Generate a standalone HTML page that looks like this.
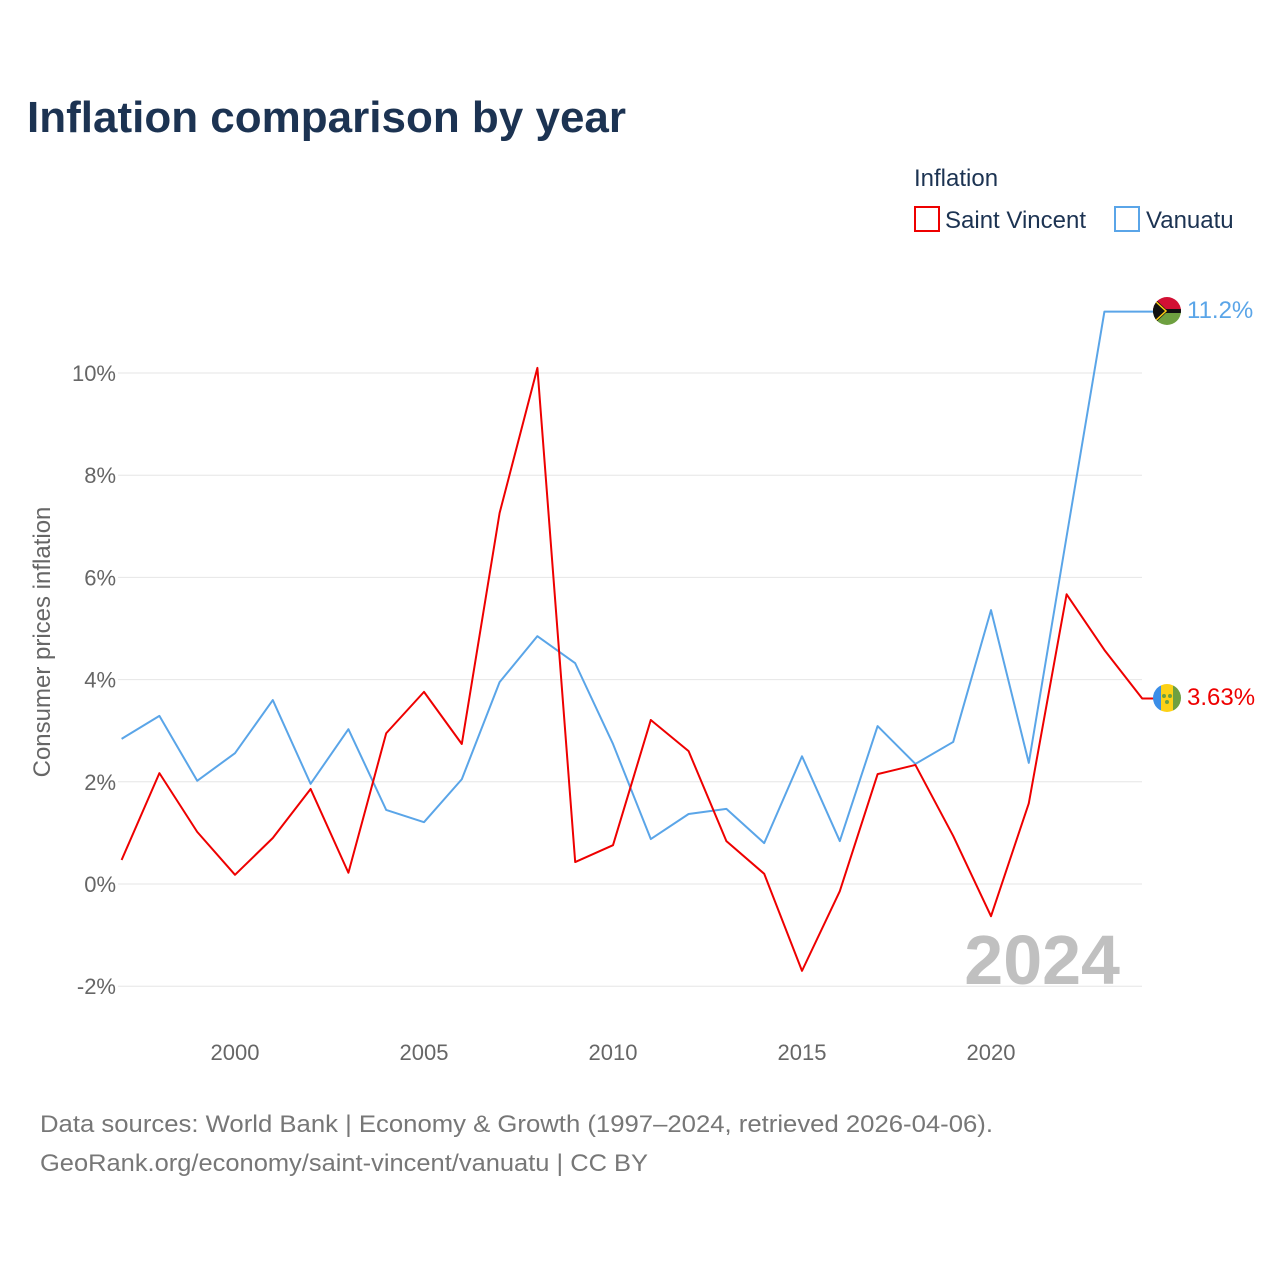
<!DOCTYPE html>
<html><head><meta charset="utf-8"><style>
body{margin:0;background:#fff;font-family:"Liberation Sans",sans-serif;}
svg text{font-family:"Liberation Sans",sans-serif;}
</style></head><body>
<svg width="1280" height="1280" xmlns="http://www.w3.org/2000/svg">
<text x="27" y="132" font-size="44" font-weight="bold" fill="#1c3352">Inflation comparison by year</text>
<text x="914" y="186" font-size="24" fill="#1c3352">Inflation</text>
<g><rect x="915" y="207" width="24" height="24" fill="none" stroke="#ee0000" stroke-width="2"/><text x="945" y="228" font-size="24" fill="#1c3352">Saint Vincent</text></g>
<g><rect x="1115" y="207" width="24" height="24" fill="none" stroke="#5aa5e8" stroke-width="2"/><text x="1146" y="228" font-size="24" fill="#1c3352">Vanuatu</text></g>
<g id="grid"></g>
<g id="yticks"></g>
<g id="xticks"></g>
<text transform="translate(50,642) rotate(-90)" text-anchor="middle" font-size="24" fill="#666">Consumer prices inflation</text>
<text x="1120" y="984" text-anchor="end" font-size="70" font-weight="bold" fill="#c0c0c0">2024</text>
<g id="series"></g>
<g>
<clipPath id="c1"><circle cx="1167" cy="311" r="14"/></clipPath>
<g clip-path="url(#c1)"><rect x="1153" y="297" width="28" height="14" fill="#d21034"/><rect x="1153" y="311" width="28" height="14" fill="#6ea040"/><rect x="1153" y="309" width="28" height="4" fill="#111"/><polygon points="1153,297 1168,311 1153,325" fill="#111"/><polyline points="1153,299 1166,311 1153,323" fill="none" stroke="#fdce12" stroke-width="1.5"/></g></g>
<g>
<clipPath id="c2"><circle cx="1167" cy="698" r="14"/></clipPath>
<g clip-path="url(#c2)"><rect x="1153" y="684" width="8" height="28" fill="#3b8ee8"/><rect x="1161" y="684" width="12" height="28" fill="#fcd116"/><rect x="1173" y="684" width="8" height="28" fill="#6ea040"/><circle cx="1164" cy="696" r="2" fill="#6ea040"/><circle cx="1170" cy="696" r="2" fill="#6ea040"/><circle cx="1167" cy="702" r="2" fill="#6ea040"/></g></g>
<text x="1187" y="318" font-size="24" fill="#5aa5e8">11.2%</text>
<text x="1187" y="705" font-size="24" fill="#ee0000">3.63%</text>
<text x="40" y="1132" font-size="24" fill="#777" textLength="953" lengthAdjust="spacingAndGlyphs">Data sources: World Bank | Economy &amp; Growth (1997–2024, retrieved 2026-04-06).</text>
<text x="40" y="1171" font-size="24" fill="#777" textLength="608" lengthAdjust="spacingAndGlyphs">GeoRank.org/economy/saint-vincent/vanuatu | CC BY</text>
</svg>
<script>
const yearsSV=[1997,1998,1999,2000,2001,2002,2003,2004,2005,2006,2007,2008,2009,2010,2011,2012,2013,2014,2015,2016,2017,2018,2019,2020,2021,2022,2023,2024];
const saintVincent=[0.47,2.17,1.02,0.18,0.9,1.86,0.22,2.95,3.76,2.74,7.26,10.1,0.43,0.76,3.21,2.6,0.84,0.2,-1.7,-0.14,2.15,2.33,0.94,-0.63,1.58,5.67,4.58,3.63];
const yearsVU=[1997,1998,1999,2000,2001,2002,2003,2004,2005,2006,2007,2008,2009,2010,2011,2012,2013,2014,2015,2016,2017,2018,2019,2020,2021,2022,2023];
const vanuatu=[2.84,3.29,2.02,2.56,3.6,1.96,3.03,1.45,1.21,2.05,3.95,4.85,4.32,2.74,0.88,1.37,1.47,0.8,2.5,0.84,3.09,2.35,2.78,5.36,2.37,6.8,11.2];
const yTicks=[-2,0,2,4,6,8,10];
const xTicks=[2000,2005,2010,2015,2020];
const NS="http://www.w3.org/2000/svg";
const X=y=>235+(y-2000)*37.8;
const Y=v=>884-v*51.1;
function mk(t,a,p){const e=document.createElementNS(NS,t);for(const k in a)e.setAttribute(k,a[k]);p.appendChild(e);return e;}
const grid=document.getElementById('grid'),yt=document.getElementById('yticks'),xt=document.getElementById('xticks'),ser=document.getElementById('series');
yTicks.forEach(v=>{
 const l=mk('line',{x1:118,x2:1142,y1:Y(v),y2:Y(v),stroke:'#e6e6e6','stroke-width':1},grid);
 
 
 const t=mk('text',{x:116,y:Y(v)+8,'text-anchor':'end','font-size':22,fill:'#666'},yt);
 t.textContent=v+'%';
 
 
});
xTicks.forEach(v=>{
 const t=mk('text',{x:X(v),y:1060,'text-anchor':'middle','font-size':22,fill:'#666'},xt);
 t.textContent=v;
 
 
});
function line(ys,vs,col,name){
 const pts=ys.map((y,i)=>X(y)+','+Y(vs[i]));
 const last=vs[vs.length-1];
 pts.push('1155,'+Y(last));
 const p=mk('polyline',{points:pts.join(' '),fill:'none',stroke:col,'stroke-width':2,'stroke-linejoin':'round'},ser);
 
 
}
line(yearsVU,vanuatu,'#5aa5e8','vanuatu-line');
line(yearsSV,saintVincent,'#ee0000','saint-vincent-line');
</script>
</body></html>
